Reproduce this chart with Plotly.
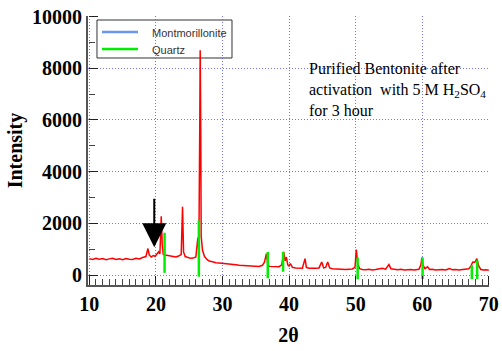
import plotly.graph_objects as go

# XRD pattern (2theta, intensity)
two_theta = [10.0, 10.5, 11.0, 11.5, 12.0, 12.5, 13.0, 13.5, 14.0, 14.5, 15.0, 15.5, 16.0, 16.5,
             17.0, 17.5, 18.0, 18.5, 18.8, 19.0, 19.3, 19.6, 19.9, 20.2, 20.4, 20.6, 20.8, 20.95,
             21.1, 21.4, 21.8, 22.2, 22.6, 23.0, 23.4, 23.8, 24.0, 24.15, 24.4, 24.8, 25.2, 25.6,
             26.0, 26.3, 26.45, 26.6, 26.65, 26.72, 26.8, 27.0, 27.3, 27.7, 28.0, 28.5, 29.0, 29.5,
             30.0, 30.5, 31.0, 31.5, 32.0, 32.5, 33.0, 33.5, 34.0, 34.5, 35.0, 35.5, 36.0, 36.3,
             36.6, 36.8, 37.0, 37.5, 38.0, 38.5, 38.9, 39.2, 39.4, 39.6, 39.8, 40.0, 40.2, 40.5,
             41.0, 41.5, 42.0, 42.4, 42.6, 43.0, 43.5, 44.0, 44.5, 44.9, 45.2, 45.5, 45.8, 46.1,
             46.5, 47.0, 47.5, 48.0, 48.5, 49.0, 49.5, 49.9, 50.1, 50.3, 50.6, 51.0, 51.5, 52.0,
             52.5, 53.0, 53.5, 54.0, 54.5, 55.0, 55.3, 55.8, 56.3, 56.8, 57.3, 57.8, 58.3, 58.8,
             59.5, 59.8, 59.95, 60.1, 60.4, 60.8, 61.1, 61.5, 62.0, 62.5, 63.0, 63.5, 64.1, 64.5,
             65.0, 65.5, 66.0, 66.5, 67.0, 67.3, 67.6, 67.9, 68.2, 68.5, 68.8, 69.2, 69.6, 70.0]
intensity = [640, 610, 650, 620, 640, 600, 630, 650, 610, 630, 600, 640, 620, 610,
             650, 630, 680, 720, 1030, 780, 700, 760, 730, 820, 900, 820, 2280, 1200,
             800, 780, 760, 730, 720, 700, 740, 800, 2640, 900, 720, 680, 650, 660,
             700, 1450, 900, 6300, 8700, 6300, 1500, 960, 720, 600, 550, 520, 480, 470,
             460, 430, 420, 410, 400, 380, 370, 360, 350, 360, 350, 340, 380, 500,
             830, 450, 340, 330, 320, 330, 400, 900, 550, 700, 400, 350, 450, 300,
             280, 270, 270, 640, 300, 270, 260, 270, 280, 510, 280, 300, 510, 280,
             250, 240, 230, 230, 220, 230, 240, 300, 990, 450, 250, 220, 210, 230,
             200, 220, 240, 270, 230, 410, 250, 220, 210, 230, 200, 210, 220, 200,
             230, 400, 680, 400, 250, 320, 220, 230, 200, 210, 220, 200, 260, 210,
             220, 200, 210, 220, 250, 350, 510, 500, 640, 350, 220, 200, 210, 190]

# Quartz reference sticks
quartz_pos = [21.3, 26.45, 36.8, 39.1, 50.3, 60.05, 67.45, 68.25]
quartz_top = [1640, 2120, 900, 900, 680, 680, 390, 580]
quartz_bottom = [90, -60, -120, 130, -150, -150, -150, -150]

# Montmorillonite reference sticks (none visible, legend only)
montmorillonite_pos = []

series_names = ["Montmorillonite", "Quartz"]
series_colors = ["#6a96ee", "#00ee00"]

x_ticks = [10, 20, 30, 40, 50, 60, 70]
y_ticks = [0, 2000, 4000, 6000, 8000, 10000]

qx, qy = [], []
for p, t, b in zip(quartz_pos, quartz_top, quartz_bottom):
    qx += [p, p, None]
    qy += [b, t, None]

fig = go.Figure()
fig.add_trace(go.Scatter(x=two_theta, y=intensity, mode="lines",
                         line=dict(color="#ff0000", width=1.5), showlegend=False))
fig.add_trace(go.Scatter(x=montmorillonite_pos or [None], y=[None] * max(1, len(montmorillonite_pos)),
                         mode="lines", name=series_names[0], showlegend=False,
                         line=dict(color=series_colors[0], width=2.5)))
fig.add_trace(go.Scatter(x=qx, y=qy, mode="lines", name=series_names[1], showlegend=False,
                         xaxis="x2", yaxis="y2",
                         line=dict(color=series_colors[1], width=2.5)))

serif = "Liberation Serif"
grid = "rgba(90,90,255,0.85)"
xr = [9.8, 70.03]
yr = [-380, 10020]
xstep = x_ticks[1] - x_ticks[0]
ystep = y_ticks[1] - y_ticks[0]

# legend drawn as a framed box in paper coordinates (above grid, below the data)
leg_box = dict(x0=0.0224, x1=0.3591, y0=0.8439, y1=0.9851)
leg_rows = [0.9368, 0.8736]
shapes = [dict(type="rect", xref="paper", yref="paper", line=dict(color="#333", width=1),
               fillcolor="white", layer="between", **leg_box)]
annotations = []
for name, col, yy in zip(series_names, series_colors, leg_rows):
    shapes.append(dict(type="line", xref="paper", yref="paper", x0=0.0349, x1=0.1247,
                       y0=yy + 0.004, y1=yy + 0.004, line=dict(color=col, width=2.5), layer="between"))
    annotations.append(dict(xref="paper", yref="paper", x=0.1546, y=yy, xanchor="left",
                            yanchor="middle", showarrow=False, text=name,
                            font=dict(family="Liberation Sans", size=11, color="#333")))

annotations += [
    dict(xref="paper", yref="paper", x=0.546, y=0.845, xanchor="left", yanchor="top",
         align="left", showarrow=False,
         text="Purified Bentonite after<br>activation  with 5 M H<sub>2</sub>SO<sub>4</sub><br>for 3 hour",
         font=dict(family=serif, size=16, color="black")),
    dict(x=19.75, y=1080, ax=19.75, ay=3010, xref="x", yref="y", axref="x", ayref="y",
         text="", showarrow=True, arrowhead=2, arrowsize=2.4, arrowwidth=2, arrowcolor="black"),
]

tickfont = dict(family=serif, size=20, color="black", weight="bold")
titlefont = dict(family=serif, size=20, color="black", weight="bold")

fig.update_layout(
    width=502, height=351,
    margin=dict(l=88, r=13, t=16, b=66),
    paper_bgcolor="white", plot_bgcolor="white",
    showlegend=False,
    xaxis=dict(range=xr, tickmode="linear", tick0=x_ticks[0], dtick=xstep, ticks="",
               showline=True, linecolor="#555", linewidth=2,
               showgrid=True, gridcolor=grid, griddash="1px,2px", gridwidth=1,
               zeroline=False, automargin=False, tickfont=tickfont,
               title=dict(text="2θ", standoff=14, font=titlefont)),
    yaxis=dict(range=yr, tickmode="linear", tick0=y_ticks[0], dtick=ystep, tickformat="d", ticks="",
               showline=True, linecolor="#555", linewidth=2,
               showgrid=True, gridcolor=grid, griddash="1px,2px", gridwidth=1,
               zeroline=False, automargin=False, tickfont=tickfont,
               title=dict(text="Intensity", standoff=4, font=titlefont)),
    # overlay axes carry the tick marks pointing into the plot
    xaxis2=dict(overlaying="x", anchor="free", position=0, side="top", range=xr,
                tickmode="linear", tick0=x_ticks[0], dtick=xstep,
                ticks="outside", ticklen=9, tickwidth=1.2, tickcolor="#222",
                minor=dict(dtick=1, ticks="outside", ticklen=6, tickwidth=1, tickcolor="#444", showgrid=False),
                showticklabels=False, showgrid=False, showline=False, zeroline=False, automargin=False),
    yaxis2=dict(overlaying="y", anchor="free", position=0, side="right", range=yr,
                tickmode="linear", tick0=y_ticks[0], dtick=ystep,
                ticks="outside", ticklen=9, tickwidth=1.2, tickcolor="#222",
                minor=dict(dtick=ystep / 2, ticks="outside", ticklen=6, tickwidth=1, tickcolor="#444", showgrid=False),
                showticklabels=False, showgrid=False, showline=False, zeroline=False, automargin=False),
    shapes=shapes,
    annotations=annotations,
)

fig.write_html("out.html")
